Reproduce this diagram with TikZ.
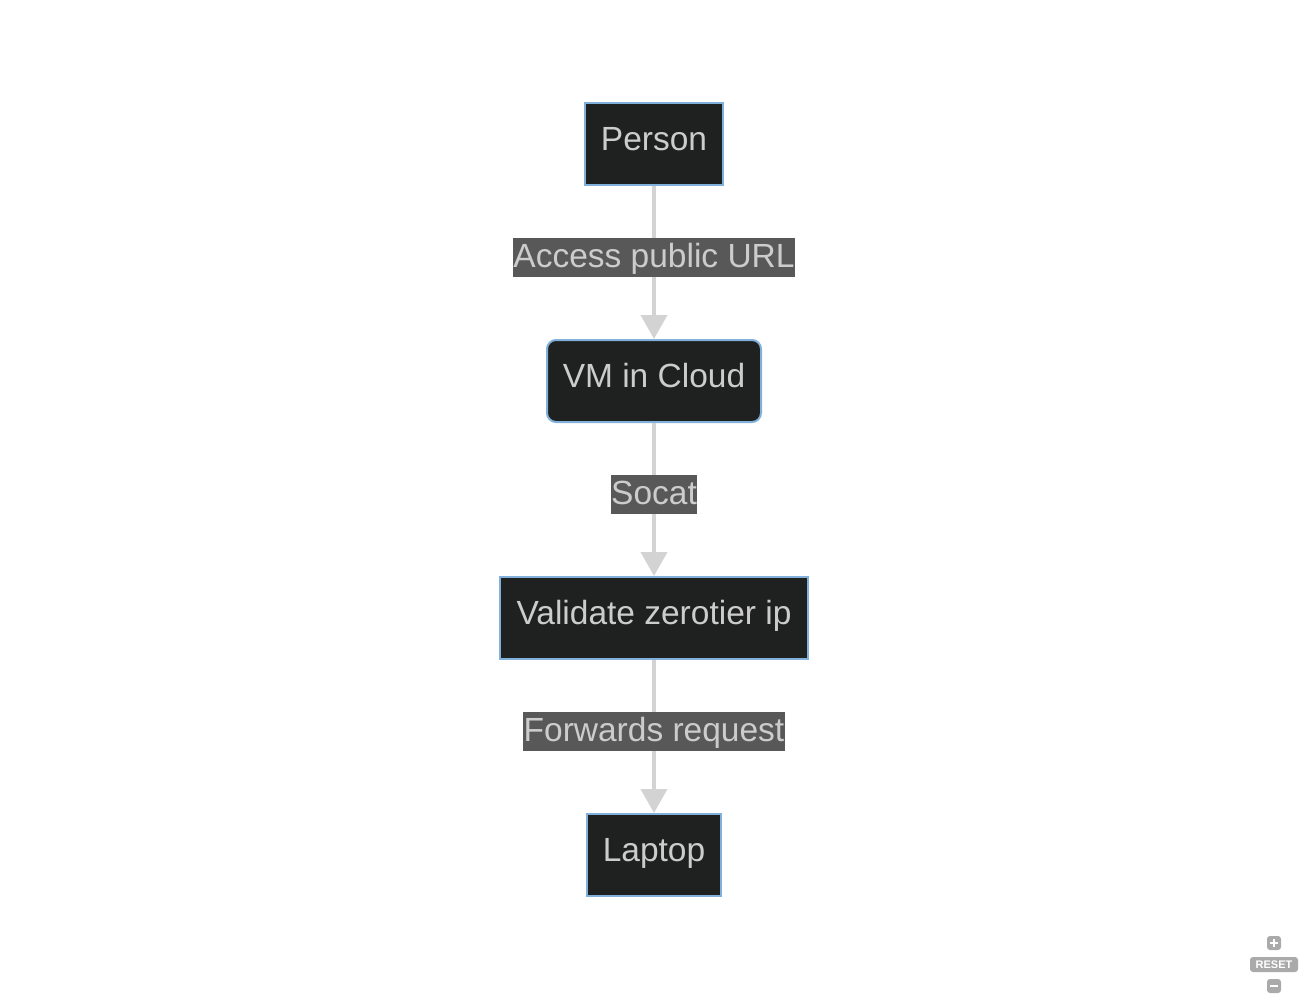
\documentclass[tikz,border=0pt]{standalone}
\usepackage{fontspec}
\setmainfont{Liberation Sans}
\usetikzlibrary{arrows.meta}
\definecolor{nodefill}{HTML}{1F2020}
\definecolor{nodeborder}{HTML}{81B1DB}
\definecolor{txt}{HTML}{CCCCCC}
\definecolor{lblbg}{HTML}{585858}
\definecolor{edgec}{HTML}{D3D3D3}
\definecolor{ctrl}{HTML}{AAAAAA}
\tikzset{
  box/.style={draw=nodeborder, line width=2pt, fill=nodefill, text=txt,
    font=\fontsize{33.5}{38}\selectfont, minimum height=82pt, inner sep=0pt,
    text height=24pt, text depth=11pt},
  roundbox/.style={box, rounded corners=9pt},
  lbl/.style={fill=lblbg, text=txt, font=\fontsize{33.5}{38}\selectfont,
    inner sep=0pt, minimum height=39pt, text height=24pt, text depth=5pt},
  edge/.style={draw=edgec, line width=4pt, -{Triangle[width=26pt,length=24pt]}},
  ctrlbox/.style={fill=ctrl, rounded corners=3pt, text=white, inner sep=0pt}
}
\begin{document}
\begin{tikzpicture}[x=1pt,y=-1pt]
\useasboundingbox (0,0) rectangle (1308,1000);
\node[box, minimum width=138pt] (person) at (654,144) {Person};
\node[roundbox, minimum width=214pt] (vm) at (654,381) {VM in Cloud};
\node[box, minimum width=308pt] (validate) at (654,618) {Validate zerotier ip};
\node[box, minimum width=134pt] (laptop) at (654,855) {Laptop};

\draw[edge] (person.south) -- node[lbl, pos=0.468, minimum width=280pt] (l1) {Access public URL} (vm.north);
\draw[edge] (vm.south) -- node[lbl, pos=0.468, minimum width=86pt] (l2) {Socat} (validate.north);
\draw[edge] (validate.south) -- node[lbl, pos=0.468, minimum width=262pt] (l3) {Forwards request} (laptop.north);

% zoom controls
\node[ctrlbox, minimum width=14pt, minimum height=14pt] (plus) at (1274,943) {};
\draw[white, line width=2pt] ([xshift=-4pt]plus.center) -- ([xshift=4pt]plus.center)
  ([yshift=-4pt]plus.center) -- ([yshift=4pt]plus.center);
\node[ctrlbox, minimum width=48pt, minimum height=15pt, font=\bfseries\fontsize{11}{12}\selectfont] (reset) at (1274,964.5) {RESET};
\node[ctrlbox, minimum width=14pt, minimum height=14pt] (minus) at (1274,986) {};
\draw[white, line width=2pt] ([xshift=-4pt]minus.center) -- ([xshift=4pt]minus.center);
\end{tikzpicture}
\end{document}
